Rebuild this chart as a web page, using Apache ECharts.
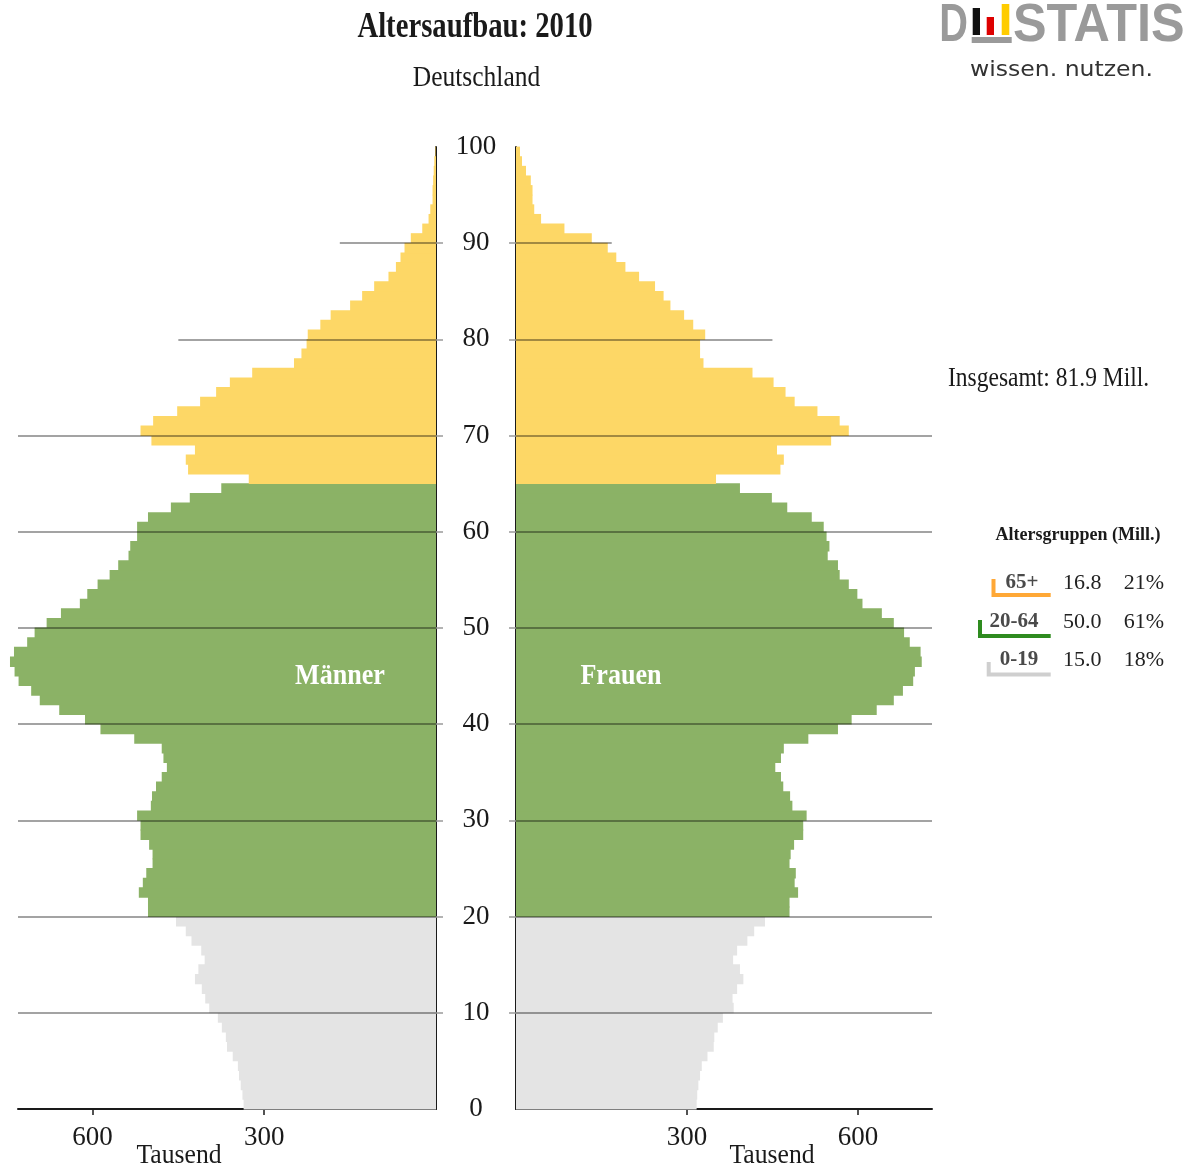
<!DOCTYPE html>
<html><head><meta charset="utf-8">
<script src="https://cdn.jsdelivr.net/npm/echarts@6/dist/echarts.min.js"></script>
<style>html,body{margin:0;padding:0;background:#fff}#c{width:1189px;height:1168px}</style>
</head><body><div id="c"></div>
<script>
// ---- data (thousands) ----
const ageLabels = [0,1,2,3,4,5,6,7,8,9,10,11,12,13,14,15,16,17,18,19,20,21,22,23,24,25,26,27,28,29,30,31,32,33,34,35,36,37,38,39,40,41,42,43,44,45,46,47,48,49,50,51,52,53,54,55,56,57,58,59,60,61,62,63,64,65,66,67,68,69,70,71,72,73,74,75,76,77,78,79,80,81,82,83,84,85,86,87,88,89,90,91,92,93,94,95,96,97,98,99];
const men = [336,338,341,344,346,355,365,367,374,381, 396,403,409,421,415,404,410,427,437,454,
  503,503,519,512,506,495,495,501,516,516, 522,498,496,489,479,470,476,479,527,586,
  613,658,692,707,729,736,744,737,714,701, 680,655,622,609,591,570,555,537,534,522,
  522,503,463,430,375,327,433,437,421,497, 516,494,452,412,384,360,321,248,235,226,
  224,202,184,150,129,108,83,70,62,55, 44,24,13,10,6,6,5,4,3,1];
const women = [317,318,320,323,326,336,347,348,354,363, 382,380,388,399,393,381,388,406,418,437,
  480,480,495,489,491,480,482,488,504,504, 510,485,481,469,465,455,465,470,513,565,
  589,633,663,679,697,700,712,710,691,681, 663,642,608,599,584,568,565,547,550,545,
  540,519,476,449,393,351,464,470,458,553, 584,568,529,489,473,452,415,329,323,323,
  332,311,295,271,259,244,216,192,176,161, 133,85,44,32,29,29,26,17.5,10.5,7];
const valueTicks = [300, 600];
const ageTicks = [10,20,30,40,50,60,70,80,90];
const gridLineAges = [10,20,30,40,50,60,70,80,90];
const gridLineReach = [730,730,730,730,730,730,730,450,168];
const groupNames = ['65+','20-64','0-19'];
const groupMill = [16.8, 50.0, 15.0];
const groupPct = [21, 61, 18];
const groupFrom = [65, 20, 0];
const totalLabel = 'Insgesamt: 81.9 Mill.';

// ---- styles ----
const FONT = "'Liberation Serif','Times New Roman',serif";
const SANS = "'Liberation Sans',Arial,sans-serif";
const groupColors = ['#FDD766', '#8BB266', '#E4E4E4'];
const bracketColors = ['#FFA836', '#2E8B1F', '#CFCFCF'];
function colorForAge(a) {
  for (let i = 0; i < groupFrom.length; i++) if (a >= groupFrom[i]) return groupColors[i];
  return groupColors[groupColors.length - 1];
}
// one age band = [age, age+1] on the value y axis
function renderBand(params, api) {
  const v = api.value(0), a = api.value(1);
  const p0 = api.coord([0, a]);
  const p1 = api.coord([v, a + 1]);
  const x = Math.min(p0[0], p1[0]);
  const w = Math.abs(p1[0] - p0[0]);
  const y = p1[1] - 0.4;
  const h = (p0[1] - p1[1]) + 0.8;
  return {type: 'rect', shape: {x: x, y: y, width: w, height: h},
    style: {fill: colorForAge(a)}};
}
const labelStyle = {fontFamily: FONT, fontSize: 27, color: '#1a1a1a'};

function xAxisCfg(grid, inverse) {
  return {gridIndex: grid, type: 'value', min: 0, max: 730, inverse: inverse,
    axisLine: {show: true, onZero: false, lineStyle: {color: '#1a1a1a', width: 2}},
    axisTick: {show: true, customValues: valueTicks, length: 6, lineStyle: {color: '#1a1a1a', width: 1.5}},
    axisLabel: Object.assign({show: true, customValues: valueTicks, margin: 15}, labelStyle),
    splitLine: {show: false}};
}
function yValueCfg(grid, pos, showLabel) {
  return {gridIndex: grid, type: 'value', min: 0, max: 100, interval: 10, position: pos,
    axisLine: {show: true, onZero: false, lineStyle: {color: '#1a1a1a', width: 2}},
    axisTick: {show: true, customValues: ageTicks, length: 7, lineStyle: {color: '#9a9a9a', width: 1.5}},
    axisLabel: Object.assign({show: showLabel, margin: 40, align: 'center', padding: [5, 0, 0, 0]}, labelStyle),
    splitLine: {show: false}};
}
function gridLines() {
  return {silent: true, symbol: ['none', 'none'], label: {show: false},
    lineStyle: {color: 'rgba(0,0,0,0.36)', width: 2, type: 'solid'},
    emphasis: {disabled: true},
    data: gridLineAges.map((a, i) => [{coord: [0, a]}, {coord: [gridLineReach[i], a]}])};
}
function txt(x, y, text, o) {
  const font = (o.bold ? 'bold ' : '') + o.size + 'px ' + (o.family || FONT);
  const al = o.align || 'center';
  return {type: 'text', x: x, y: y, scaleX: o.sx || 1, silent: true, z: 100,
    style: {text: text, font: font, fill: o.fill || '#1a1a1a', align: al, textAlign: al,
      verticalAlign: 'middle', textVerticalAlign: 'middle'}};
}

const graphic = [
  txt(475, 28, 'Altersaufbau: 2010', {size: 35, bold: true, sx: 0.82}),
  txt(476.5, 78, 'Deutschland', {size: 30, sx: 0.85}),
  txt(948, 379, totalLabel, {size: 28, sx: 0.84, align: 'left'}),
  txt(340, 676, 'Männer', {size: 30, bold: true, sx: 0.87, fill: '#fff'}),
  txt(621, 676, 'Frauen', {size: 30, bold: true, sx: 0.87, fill: '#fff'}),
  txt(179, 1156, 'Tausend', {size: 27, sx: 0.95}),
  txt(772, 1156, 'Tausend', {size: 27, sx: 0.95}),
  txt(1078, 535, 'Altersgruppen (Mill.)', {size: 18, bold: true}),
  // logo
  txt(953.5, 26, 'D', {size: 53, bold: true, family: SANS, fill: '#9A9A9A', sx: 0.75}),
  txt(1013, 26, 'STATIS', {size: 53, bold: true, family: SANS, fill: '#9A9A9A', sx: 0.95, align: 'left'}),
  {type: 'rect', silent: true, shape: {x: 972.7, y: 8, width: 7.3, height: 27}, style: {fill: '#111'}},
  {type: 'rect', silent: true, shape: {x: 986.7, y: 17, width: 7.3, height: 18}, style: {fill: '#DD0000'}},
  {type: 'rect', silent: true, shape: {x: 1001.7, y: 4, width: 7.6, height: 31}, style: {fill: '#FFCC00'}},
  {type: 'rect', silent: true, shape: {x: 971.7, y: 37, width: 40, height: 6}, style: {fill: '#9A9A9A'}},
  txt(970, 70, 'wissen. nutzen.', {size: 22, family: "'DejaVu Sans',sans-serif", fill: '#333', align: 'left', sx: 1.07})
];
const rowY = [583, 622, 660];
const nameX = [1022, 1014, 1019];
const bracketPts = [
  [[993.5, 579], [993.5, 595], [1050.7, 595]],
  [[980, 620], [980, 636], [1050.7, 636]],
  [[988.7, 662], [988.7, 674.5], [1050.7, 674.5]]
];
groupNames.forEach((g, i) => {
  graphic.push({type: 'polyline', silent: true, shape: {points: bracketPts[i]},
    style: {stroke: bracketColors[i], lineWidth: 4, fill: null}});
  graphic.push(txt(nameX[i], rowY[i], g, {size: 21, bold: true, fill: '#4a4a4a'}));
  graphic.push(txt(1063, rowY[i], groupMill[i].toFixed(1), {size: 22, align: 'left', fill: '#222'}));
  graphic.push(txt(1164, rowY[i], groupPct[i] + '%', {size: 22, align: 'right', fill: '#222'}));
});

const option = {
  animation: false,
  backgroundColor: '#fff',
  grid: [
    {left: 18, top: 147, width: 418, height: 962, containLabel: false, outerBoundsMode: 'none'},
    {left: 516, top: 147, width: 416, height: 962, containLabel: false, outerBoundsMode: 'none'}
  ],
  xAxis: [xAxisCfg(0, true), xAxisCfg(1, false)],
  yAxis: [yValueCfg(0, 'right', true), yValueCfg(1, 'left', false)],
  series: [
    {type: 'custom', name: 'Männer', xAxisIndex: 0, yAxisIndex: 0, clip: false, silent: true,
      data: men.map((v, i) => [v, ageLabels[i]]), renderItem: renderBand,
      encode: {x: 0, y: 1}},
    {type: 'custom', name: 'Frauen', xAxisIndex: 1, yAxisIndex: 1, clip: false, silent: true,
      data: women.map((v, i) => [v, ageLabels[i]]), renderItem: renderBand,
      encode: {x: 0, y: 1}},
    {type: 'line', xAxisIndex: 0, yAxisIndex: 0, data: [], z: 10, silent: true, markLine: gridLines()},
    {type: 'line', xAxisIndex: 1, yAxisIndex: 1, data: [], z: 10, silent: true, markLine: gridLines()}
  ],
  graphic: graphic
};
const chart = echarts.init(document.getElementById('c'), null, {renderer: 'canvas'});
chart.setOption(option);
</script></body></html>
